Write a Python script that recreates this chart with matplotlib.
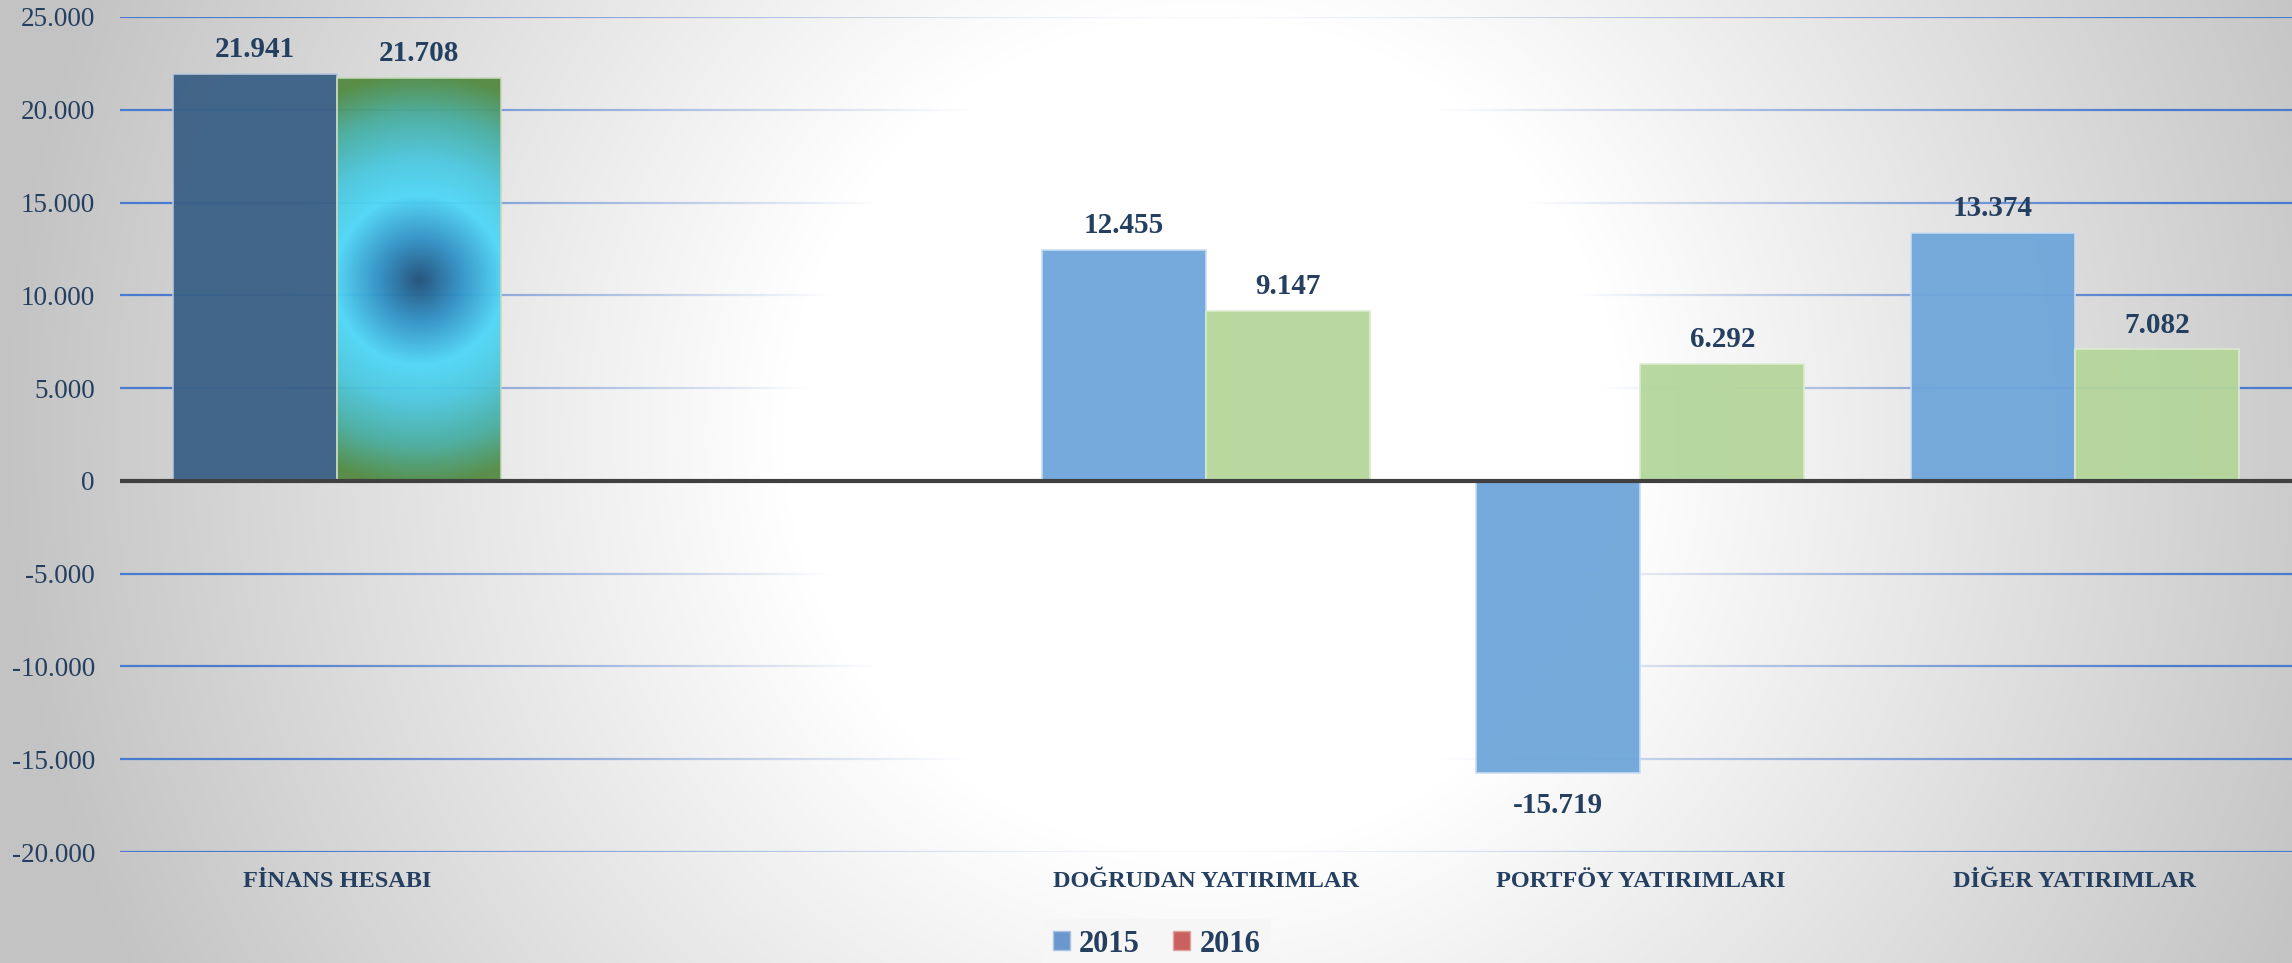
import numpy as np
import matplotlib
matplotlib.use('Agg')
import matplotlib.pyplot as plt
from matplotlib.collections import LineCollection
from matplotlib.patches import Patch

# ---------------- data ----------------
categories = ['FİNANS HESABI', '', 'DOĞRUDAN YATIRIMLAR', 'PORTFÖY YATIRIMLARI', 'DİĞER YATIRIMLAR']
values_2015 = [21941, np.nan, 12455, -15719, 13374]
values_2016 = [21708, np.nan, 9147, 6292, 7082]
series_names = ['2015', '2016']
yticks = list(range(-20000, 25001, 5000))

# ---------------- style ----------------
W, H, DPI = 2292, 963, 100
FONT = 'Liberation Serif'
TXT = '#243F60'
plt.rcParams['font.family'] = [FONT, 'DejaVu Serif']

fig = plt.figure(figsize=(W / DPI, H / DPI), dpi=DPI)

# radial background
CX, CY = 1204, 435
def dist(px, py):
    return np.hypot(px - CX, py - CY)

yy, xx = np.mgrid[0:H, 0:W]
r_img = dist(xx + 0.5, yy + 0.5)
shade = np.clip(255 - 0.0763 * (r_img - 420), 195, 255) / 255.0
bg_ax = fig.add_axes([0, 0, 1, 1], zorder=-10)
bg_ax.imshow(np.dstack([shade] * 3), aspect='auto', extent=(0, W, 0, H), origin='upper',
             interpolation='bilinear')
bg_ax.set_xlim(0, W); bg_ax.set_ylim(0, H)
bg_ax.axis('off')

# main axes
ax = fig.add_axes([120 / W, 1 - 852 / H, 1 - 120 / W, (852 - 17) / H])
ax.set_facecolor('none')
for s in ax.spines.values():
    s.set_visible(False)
x = np.arange(len(categories))
ax.set_xlim(-0.5, len(categories) - 0.5)
ax.set_ylim(yticks[0], yticks[-1])

# gridlines fading toward the bright center
fig.canvas.draw()
grid_rgb = np.array([0x4a, 0x7b, 0xd0]) / 255.0
for yv in yticks:
    if yv == 0:
        continue
    xs = np.linspace(-0.5, len(categories) - 0.5, 600)
    pts = np.column_stack([xs, np.full_like(xs, yv)])
    disp = ax.transData.transform(pts)
    r = dist(disp[:, 0], H - disp[:, 1])
    alpha = np.clip((r - 400) / 600.0, 0, 1) ** 0.9
    segs = np.stack([pts[:-1], pts[1:]], axis=1)
    cols = np.column_stack([np.tile(grid_rgb, (len(segs), 1)), (alpha[:-1] + alpha[1:]) / 2])
    ax.add_collection(LineCollection(segs, colors=cols, linewidths=1.6, zorder=1,
                                     capstyle='butt'))

# bars
bw = 0.3774
b15 = ax.bar(x - bw / 2, values_2015, bw, color='#6fa6da', edgecolor='#c9ddf1',
             linewidth=1.2, alpha=0.95, zorder=3)
b16 = ax.bar(x + bw / 2, values_2016, bw, color='#b4d69b', edgecolor='#dcebd0',
             linewidth=1.2, alpha=0.95, zorder=3)
b15[0].set_facecolor('#3a6085')
b15[0].set_edgecolor('#b9c9dc')

# radial gradient fill for the first 2016 bar
bar = b16[0]
bx0, bh = bar.get_x(), bar.get_height()
bx1 = bx0 + bar.get_width()
c0 = ax.transData.transform((bx0, 0))
c1 = ax.transData.transform((bx1, bh))
npx, npy = int(abs(c1[0] - c0[0])) + 1, int(abs(c1[1] - c0[1])) + 1
gy, gx = np.mgrid[0:npy, 0:npx]
gr = np.hypot(gx - npx / 2, gy - npy / 2)
stops_r = [0, 40, 85, 120, 165, 205]
stops_c = np.array([[0x1d, 0x4e, 0x78], [0x2f, 0x8f, 0xc4], [0x4f, 0xd8, 0xf8],
                    [0x4c, 0xc8, 0xe0], [0x48, 0xad, 0x9f], [0x52, 0x8a, 0x40]]) / 255.0
grad = np.dstack([np.interp(gr, stops_r, stops_c[:, k]) for k in range(3)])
im = ax.imshow(grad, extent=(bx0, bx1, 0, bh), aspect='auto', zorder=2.9, alpha=0.95,
               interpolation='bilinear')
im.set_clip_path(bar)
bar.set_facecolor('none')
bar.set_edgecolor('#c5d9b8')
ax.set_xlim(-0.5, len(categories) - 0.5)
ax.set_ylim(yticks[0], yticks[-1])

# zero line
ax.axhline(0, color='#404040', lw=3, zorder=5)

# data labels
def fmt(v):
    return f"{v:,.0f}".replace(',', '.')

for bars in (b15, b16):
    for rect in bars:
        v = rect.get_height()
        if np.isnan(v):
            continue
        cx = rect.get_x() + rect.get_width() / 2
        dy = 12.2 if v >= 0 else -28.8
        ax.annotate(fmt(v), (cx, v), xytext=(0, dy), textcoords='offset points',
                    ha='center', va='baseline', fontsize=21, fontweight='bold',
                    color=TXT, zorder=6)

# ticks
ax.set_yticks(yticks)
ax.set_yticklabels([fmt(t) for t in yticks], fontsize=19.5, color=TXT)
ax.set_xticks(x)
ax.set_xticklabels(categories, fontsize=17.5, fontweight='bold', color=TXT)
ax.tick_params(axis='y', length=0, pad=18)
ax.tick_params(axis='x', length=0, pad=14)

# legend
handles = [Patch(facecolor='#6a98cc', edgecolor='#a9c4e4'),
           Patch(facecolor='#c9625f', edgecolor='#e3a3a1')]
leg = fig.legend(handles, series_names, loc='center', bbox_to_anchor=(0.5046, 1 - 944 / H),
                 ncol=2, frameon=True, fancybox=False, handlelength=0.55, handleheight=0.55,
                 handletextpad=0.3, columnspacing=1.1, borderpad=0.35,
                 prop={'family': FONT, 'weight': 'bold', 'size': 22}, labelcolor=TXT)
leg.get_frame().set_facecolor('#f6f6f6')
leg.get_frame().set_edgecolor('none')
leg.get_frame().set_alpha(1)

fig.savefig('out.png', dpi=DPI)
